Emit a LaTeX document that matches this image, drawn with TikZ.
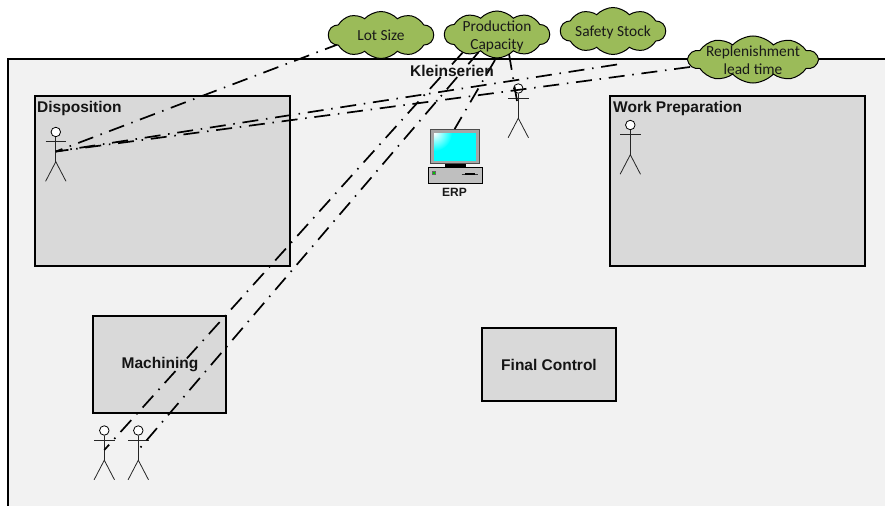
\documentclass[tikz,border=0pt]{standalone}
\usepackage{fontspec}
\setmainfont{Liberation Sans}
\newfontfamily\cloudfont{Carlito}
\usetikzlibrary{shapes.symbols,calc}
\pgfdeclarelayer{back}
\pgfdeclarelayer{lines}
\pgfsetlayers{back,lines,main}
\definecolor{framefill}{HTML}{F2F2F2}
\definecolor{boxfill}{HTML}{D9D9D9}
\definecolor{cloudgreen}{HTML}{9BBB59}
\definecolor{screencyan}{RGB}{0,255,255}
\definecolor{ledgreen}{RGB}{0,200,0}
\tikzset{
  box/.style={draw=black,line width=2pt,fill=boxfill,inner sep=0pt},
  boxtitle/.style={font=\bfseries\fontsize{15.5}{17}\selectfont,inner sep=0pt,text=black!92},
  cloudbg/.style={cloud,cloud puffs=10,cloud puff arc=95,draw=black,line width=1pt,fill=cloudgreen,inner sep=0pt,cloud ignores aspect},
  cloudtext/.style={font=\cloudfont\fontsize{15.4}{18.5}\selectfont,align=center,inner sep=0pt,text=black!90},
  link/.style={line width=1.7pt,black,dash pattern=on 16pt off 7.75pt on 1.5pt off 7.75pt},
  actor/.pic={
    \node[circle,draw=black,fill=white,line width=.8pt,minimum size=9.5pt,inner sep=0pt] (-head) at (0,0) {};
    \draw[line width=.8pt,black!85] (-head.south) -- (0,29.7) (-10.2,9.7) -- (10.2,9.7);
    \draw[line width=.8pt,black!85] (-10.2,49.3) -- (0,29.7) -- (10.2,49.3);
    \coordinate (-hand) at (0,19.5);
  }
}
\begin{document}
\begin{tikzpicture}[x=1pt,y=-1pt]
\useasboundingbox (0,0) rectangle (885,506);
\begin{pgfonlayer}{back}
  \fill[framefill] (7.5,58.5) rectangle (885,506);
  \draw[line width=2pt,black] (885,58.5) -- (7.5,58.5) -- (7.5,506);
  \node[box,minimum width=255pt,minimum height=170pt] (disp) at (162,181) {};
  \node[box,minimum width=255pt,minimum height=170pt] (work) at (737.5,181) {};
  \node[box,minimum width=133pt,minimum height=97pt] (mach) at (159.5,364.5) {};
  \node[box,minimum width=134pt,minimum height=73pt] (final) at (549,364.5) {};
  \pic (a1) at (55.8,132) {actor};
  \pic (a2) at (630.3,125) {actor};
  \pic (a3) at (518.3,88.5) {actor};
  \pic (a4) at (104.3,430.5) {actor};
  \pic (a5) at (138.3,430.5) {actor};
\end{pgfonlayer}

\node[boxtitle,anchor=west] (dispt) at (37,108.5) {Disposition};
\node[boxtitle,anchor=west] (workt) at (613,108.5) {Work Preparation};
\node[boxtitle] (macht) at (160,365) {Machining};
\node[boxtitle] (finalt) at (549,365) {Final Control};
\node[boxtitle] (klein) at (452,71) {Kleinserien};

\node[cloudbg,minimum width=105pt,minimum height=47pt] (lot) at (381,35) {};
\node[cloudbg,minimum width=105pt,minimum height=47pt] (prod) at (497,34.5) {};
\node[cloudbg,minimum width=105pt,minimum height=47pt] (safe) at (613,31) {};
\node[cloudbg,minimum width=129pt,minimum height=47pt] (repl) at (753,59.5) {};
\node[cloudtext] (lott) at (381,35) {Lot Size};
\node[cloudtext] (prodt) at (497,36.5) {Production\\Capacity};
\node[cloudtext] (safet) at (613,32) {Safety Stock};
\node[cloudtext] (replt) at (753,60) {Replenishment\\lead time};

% ERP computer
\begin{pgfonlayer}{back}
  \fill[black] (445,162) rectangle (466,168);
  \node[draw=black!70,line width=.5pt,fill=black!35,minimum width=49pt,minimum height=34pt,inner sep=0pt] (monitor) at (454.6,146.3) {};
  \fill[screencyan] (434,133) rectangle (476,160.5);
  \begin{scope}
    \clip (434,133) rectangle (476,160.5);
    \shade[inner color=white,outer color=screencyan] (434,133) circle (18);
  \end{scope}
  \fill[black] (428.3,167) rectangle (482.7,183.7);
  \fill[black!25] (428.8,167.6) rectangle (481.7,182.6);
  \fill[ledgreen,draw=black!60,line width=.2pt] (431.7,171) rectangle (435,174);
  \draw[line width=.7pt,black!80] (461.7,174) -- (478.3,174);
  \draw[line width=2pt,black] (465,174) -- (475,174);
\end{pgfonlayer}
\node[font=\bfseries\fontsize{12}{13}\selectfont,inner sep=0pt,text=black!90] (erp) at (454.5,192.5) {ERP};

\coordinate (lotE) at (340,43.6);
\coordinate (replE) at (690,67);
\coordinate (safeE) at (617,64.5);
\coordinate (prodA) at (462.7,52.5);
\coordinate (prodB) at (478.7,52);
\coordinate (prodC) at (495,60);
\coordinate (prodD) at (509,54);
\coordinate (a3E) at (517,101);
\begin{pgfonlayer}{lines}
  \draw[link] (lotE) -- (a1-hand);
  \draw[link] (replE) -- (a1-hand);
  \draw[link] (safeE) -- (a1-hand);
  \draw[link] (prodA) -- (a4-hand);
  \draw[link] (prodB) -- (a5-hand);
  \draw[link] (prodC) -- (monitor.north);
  \draw[link] (prodD) -- (a3E);
\end{pgfonlayer}
\end{tikzpicture}
\end{document}
